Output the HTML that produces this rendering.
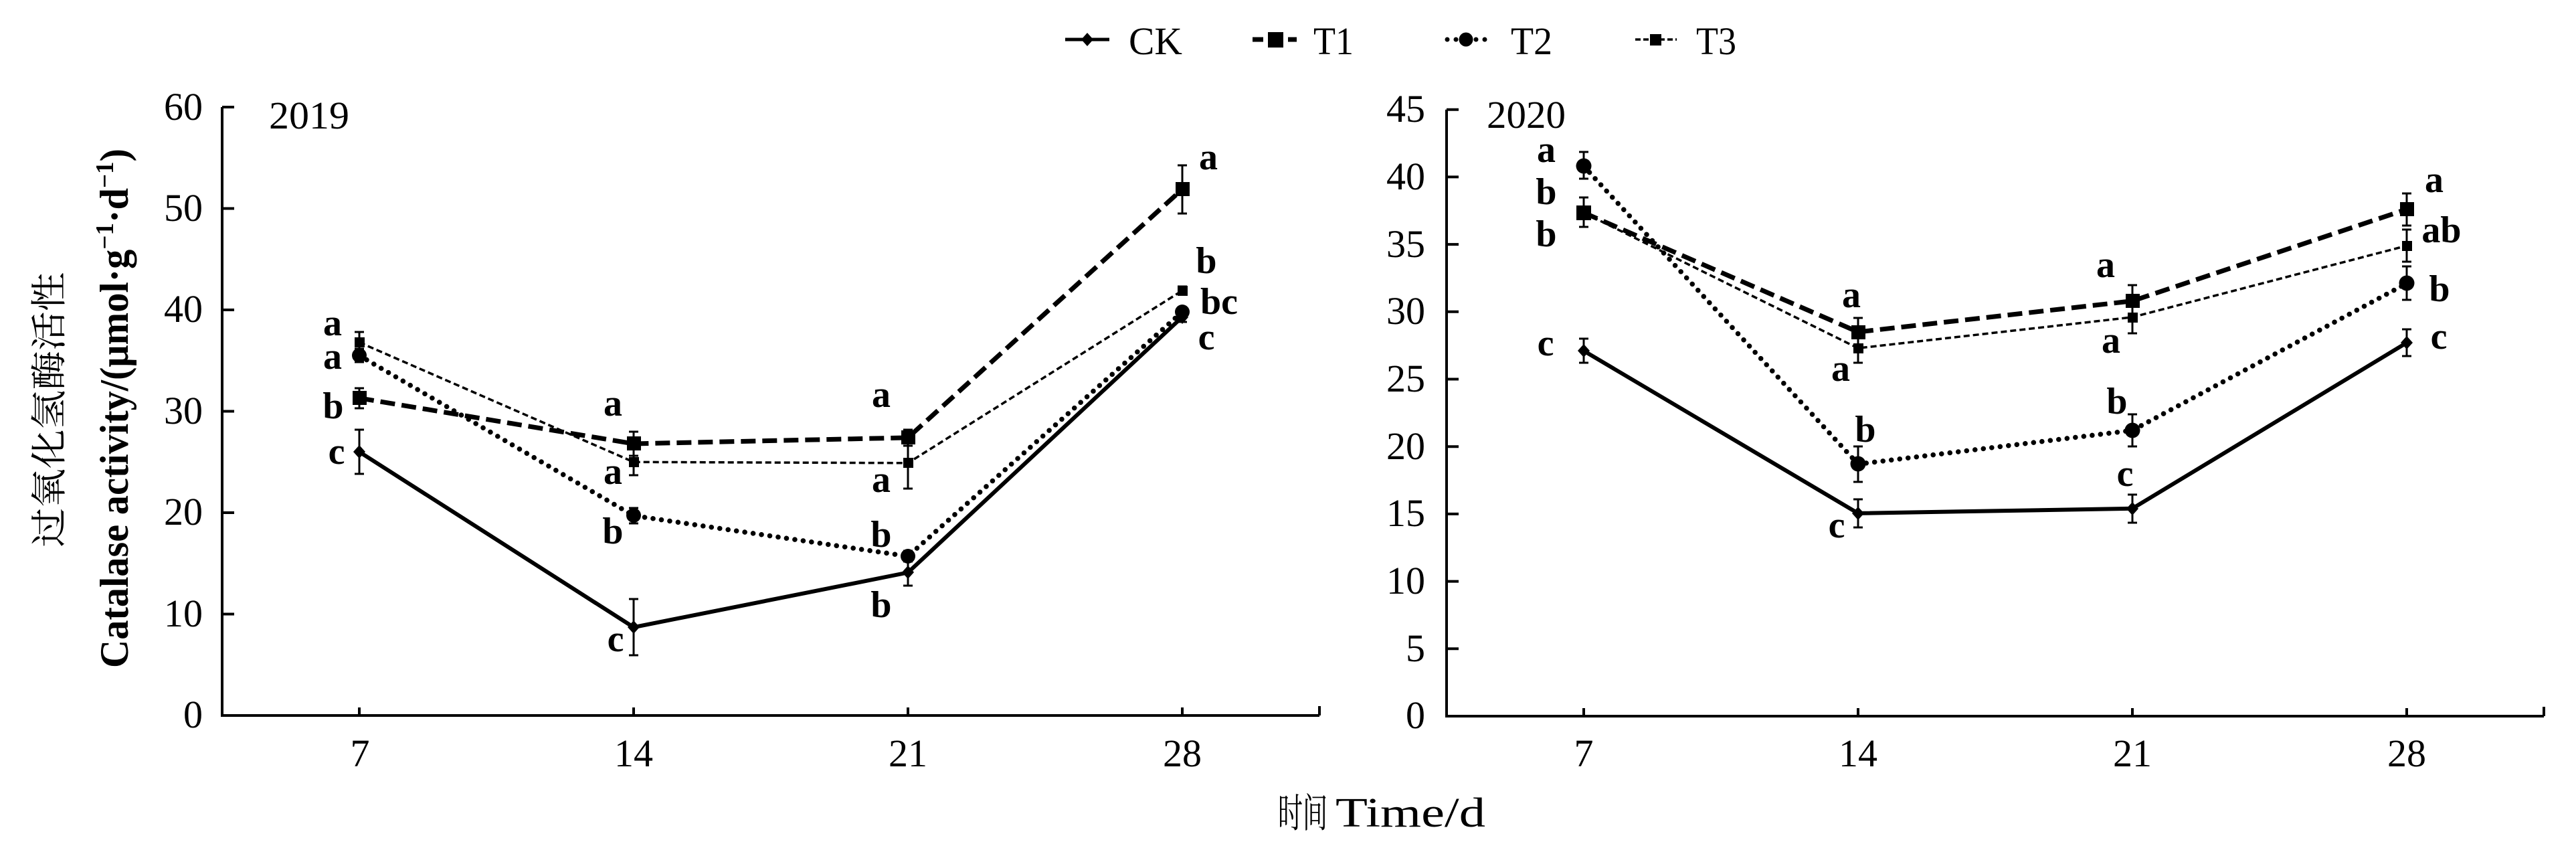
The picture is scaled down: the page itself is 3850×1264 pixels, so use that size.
<!DOCTYPE html>
<html>
<head>
<meta charset="utf-8">
<style>
  html,body{margin:0;padding:0;background:#fff;}
  body{width:3850px;height:1264px;overflow:hidden;}
  svg{display:block;}
  .t{font-family:"Liberation Serif","Noto Serif CJK SC",serif;fill:#000;}
  .tick{font-size:58px;}
  .let{font-size:56px;font-weight:bold;text-anchor:middle;}
</style>
</head>
<body>
<svg width="3850" height="1264" viewBox="0 0 3850 1264" xmlns="http://www.w3.org/2000/svg">
  <rect x="0" y="0" width="3850" height="1264" fill="#fff"/>

  <!-- ===== Legend ===== -->
  <g stroke="#000" fill="#000">
    <line x1="1592" y1="59" x2="1658" y2="59" stroke-width="5"/>
    <polygon points="1625,49 1634,59 1625,69 1616,59" stroke="none"/>
    <line x1="1872" y1="59" x2="1888" y2="59" stroke-width="7"/>
    <rect x="1895" y="48" width="23" height="23" stroke="none"/>
    <line x1="1925" y1="59" x2="1938" y2="59" stroke-width="7"/>
    <circle cx="2163" cy="59" r="3.5" stroke="none"/>
    <circle cx="2176" cy="59" r="3.5" stroke="none"/>
    <circle cx="2191" cy="59" r="10.5" stroke="none"/>
    <circle cx="2206" cy="59" r="3.5" stroke="none"/>
    <circle cx="2219" cy="59" r="3.5" stroke="none"/>
    <line x1="2444" y1="59" x2="2506" y2="59" stroke-width="3.5" stroke-dasharray="8 4"/>
    <rect x="2466" y="51" width="17" height="17" stroke="none"/>
  </g>
  <g class="t" font-size="58">
    <text x="1687" y="81" textLength="80" lengthAdjust="spacingAndGlyphs">CK</text>
    <text x="1963" y="81" textLength="60" lengthAdjust="spacingAndGlyphs">T1</text>
    <text x="2258" y="81" textLength="62" lengthAdjust="spacingAndGlyphs">T2</text>
    <text x="2535" y="81" textLength="60" lengthAdjust="spacingAndGlyphs">T3</text>
  </g>

  <!-- ===== Y axis title ===== -->
  <text class="t" transform="translate(92,612) rotate(-90)" text-anchor="middle" font-size="54" textLength="411" lengthAdjust="spacingAndGlyphs">过氧化氢酶活性</text>
  <text class="t" transform="translate(191,610) rotate(-90)" text-anchor="middle" font-size="60" font-weight="bold" textLength="776" lengthAdjust="spacingAndGlyphs">Catalase activity/(μmol·g<tspan font-size="38" dy="-22">−1</tspan><tspan dy="22">·d</tspan><tspan font-size="38" dy="-22">−1</tspan><tspan dy="22">)</tspan></text>

  <!-- ===== X axis title ===== -->
  <text class="t" x="1910" y="1236" font-size="60" textLength="74" lengthAdjust="spacingAndGlyphs">时间</text>
  <text class="t" x="1996" y="1235" font-size="62" textLength="224" lengthAdjust="spacingAndGlyphs">Time/d</text>

  <!-- ================= LEFT PANEL (2019) ================= -->
  <g stroke="#000" stroke-width="4" fill="none">
    <path d="M332,160 L332,1069 L1972,1069"/>
    <line x1="332" y1="160" x2="350" y2="160"/>
    <line x1="332" y1="311.5" x2="350" y2="311.5"/>
    <line x1="332" y1="463" x2="350" y2="463"/>
    <line x1="332" y1="614.5" x2="350" y2="614.5"/>
    <line x1="332" y1="766" x2="350" y2="766"/>
    <line x1="332" y1="917.5" x2="350" y2="917.5"/>
    <line x1="537" y1="1069" x2="537" y2="1057"/>
    <line x1="947" y1="1069" x2="947" y2="1057"/>
    <line x1="1357" y1="1069" x2="1357" y2="1057"/>
    <line x1="1767" y1="1069" x2="1767" y2="1057"/>
    <line x1="1972" y1="1069" x2="1972" y2="1055"/>
  </g>
  <g class="t tick" text-anchor="end">
    <text x="303" y="1087">0</text>
    <text x="303" y="936">10</text>
    <text x="303" y="784">20</text>
    <text x="303" y="633">30</text>
    <text x="303" y="481">40</text>
    <text x="303" y="330">50</text>
    <text x="303" y="179">60</text>
  </g>
  <g class="t tick" text-anchor="middle">
    <text x="538" y="1145">7</text>
    <text x="947" y="1145">14</text>
    <text x="1357" y="1145">21</text>
    <text x="1767" y="1145">28</text>
  </g>
  <text class="t" x="402" y="192" font-size="58" textLength="120" lengthAdjust="spacingAndGlyphs">2019</text>

  <g fill="none" stroke="#000">
    <polyline points="537,675.1 947,937.2 1357,855.4 1767,473.6" stroke-width="6"/>
    <polyline points="537,594.8 947,663 1357,653.9 1767,282.7" stroke-width="7" stroke-dasharray="22 10"/>
    <polyline points="537,531.2 947,770.5 1357,831.1 1767,466" stroke-width="7.5" stroke-dasharray="0.1 12.5" stroke-linecap="round"/>
    <polyline points="537,511.5 947,690.3 1357,691.8 1767,434.2" stroke-width="3.5" stroke-dasharray="9 5"/>
  </g>
  <g stroke="#000" stroke-width="3" fill="none">
    <path d="M537,642 V708 M530,642 H544 M530,708 H544"/>
    <path d="M947,895 V979 M940,895 H954 M940,979 H954"/>
    <path d="M1357,835 V875 M1350,835 H1364 M1350,875 H1364"/>
    <path d="M1767,466 V481 M1760,466 H1774 M1760,481 H1774"/>
    <path d="M537,580 V610 M530,580 H544 M530,610 H544"/>
    <path d="M947,645 V681 M940,645 H954 M940,681 H954"/>
    <path d="M1357,642 V666 M1350,642 H1364 M1350,666 H1364"/>
    <path d="M1767,247 V319 M1760,247 H1774 M1760,319 H1774"/>
    <path d="M537,521 V541 M530,521 H544 M530,541 H544"/>
    <path d="M947,759 V782 M940,759 H954 M940,782 H954"/>
    <path d="M1357,823 V839 M1350,823 H1364 M1350,839 H1364"/>
    <path d="M537,496 V527 M530,496 H544 M530,527 H544"/>
    <path d="M947,670 V710 M940,670 H954 M940,710 H954"/>
    <path d="M1357,654 V730 M1350,654 H1364 M1350,730 H1364"/>
    <path d="M1767,428 V440 M1760,428 H1774 M1760,440 H1774"/>
  </g>
  <g fill="#000">
    <polygon points="537,665 546,675 537,685 528,675"/>
    <polygon points="947,927 956,937 947,947 938,937"/>
    <polygon points="1357,845 1366,855 1357,865 1348,855"/>
    <polygon points="1767,464 1776,474 1767,484 1758,474"/>
    <rect x="527" y="584" width="21" height="21"/>
    <rect x="937" y="652" width="21" height="21"/>
    <rect x="1347" y="643" width="21" height="21"/>
    <rect x="1757" y="272" width="21" height="21"/>
    <circle cx="537" cy="531" r="11"/>
    <circle cx="947" cy="770" r="11"/>
    <circle cx="1357" cy="831" r="11"/>
    <circle cx="1767" cy="466" r="11"/>
    <rect x="530" y="504" width="15" height="15"/>
    <rect x="940" y="683" width="15" height="15"/>
    <rect x="1350" y="684" width="15" height="15"/>
    <rect x="1760" y="427" width="15" height="15"/>
  </g>
  <g class="t let">
    <text x="497" y="501">a</text>
    <text x="497" y="551">a</text>
    <text x="498" y="625">b</text>
    <text x="503" y="693">c</text>
    <text x="916" y="621">a</text>
    <text x="916" y="723">a</text>
    <text x="916" y="812">b</text>
    <text x="920" y="973">c</text>
    <text x="1317" y="608">a</text>
    <text x="1317" y="735">a</text>
    <text x="1317" y="817">b</text>
    <text x="1317" y="922">b</text>
    <text x="1806" y="253">a</text>
    <text x="1803" y="408">b</text>
    <text x="1822" y="469">bc</text>
    <text x="1803" y="522">c</text>
  </g>

  <!-- ================= RIGHT PANEL (2020) ================= -->
  <g stroke="#000" stroke-width="4" fill="none">
    <path d="M2162,163.7 L2162,1070 L3802,1070"/>
    <line x1="2162" y1="163.7" x2="2180" y2="163.7"/>
    <line x1="2162" y1="264.4" x2="2180" y2="264.4"/>
    <line x1="2162" y1="365.1" x2="2180" y2="365.1"/>
    <line x1="2162" y1="465.8" x2="2180" y2="465.8"/>
    <line x1="2162" y1="566.5" x2="2180" y2="566.5"/>
    <line x1="2162" y1="667.2" x2="2180" y2="667.2"/>
    <line x1="2162" y1="767.9" x2="2180" y2="767.9"/>
    <line x1="2162" y1="868.6" x2="2180" y2="868.6"/>
    <line x1="2162" y1="969.3" x2="2180" y2="969.3"/>
    <line x1="2367" y1="1070" x2="2367" y2="1058"/>
    <line x1="2777" y1="1070" x2="2777" y2="1058"/>
    <line x1="3187" y1="1070" x2="3187" y2="1058"/>
    <line x1="3597" y1="1070" x2="3597" y2="1058"/>
    <line x1="3802" y1="1070" x2="3802" y2="1056"/>
  </g>
  <g class="t tick" text-anchor="end">
    <text x="2130" y="1088">0</text>
    <text x="2130" y="988">5</text>
    <text x="2130" y="887">10</text>
    <text x="2130" y="786">15</text>
    <text x="2130" y="686">20</text>
    <text x="2130" y="585">25</text>
    <text x="2130" y="484">30</text>
    <text x="2130" y="384">35</text>
    <text x="2130" y="283">40</text>
    <text x="2130" y="182">45</text>
  </g>
  <g class="t tick" text-anchor="middle">
    <text x="2367" y="1145">7</text>
    <text x="2777" y="1145">14</text>
    <text x="3187" y="1145">21</text>
    <text x="3597" y="1145">28</text>
  </g>
  <text class="t" x="2222" y="191" font-size="58" textLength="118" lengthAdjust="spacingAndGlyphs">2020</text>

  <g fill="none" stroke="#000">
    <polyline points="2367,524.2 2777,766.9 3187,759.8 3597,512.1" stroke-width="6"/>
    <polyline points="2367,317.8 2777,496 3187,449.7 3597,312.7" stroke-width="7" stroke-dasharray="22 10"/>
    <polyline points="2367,248.3 2777,693.4 3187,643 3597,423.5" stroke-width="7.5" stroke-dasharray="0.1 12.5" stroke-linecap="round"/>
    <polyline points="2367,317.8 2777,520.2 3187,473.9 3597,367.1" stroke-width="3.5" stroke-dasharray="9 5"/>
  </g>
  <g stroke="#000" stroke-width="3" fill="none">
    <path d="M2367,506 V542 M2360,506 H2374 M2360,542 H2374"/>
    <path d="M2777,746 V788 M2770,746 H2784 M2770,788 H2784"/>
    <path d="M3187,739 V781 M3180,739 H3194 M3180,781 H3194"/>
    <path d="M3597,492 V532 M3590,492 H3604 M3590,532 H3604"/>
    <path d="M2367,295 V339 M2360,295 H2374 M2360,339 H2374"/>
    <path d="M2777,475 V517 M2770,475 H2784 M2770,517 H2784"/>
    <path d="M3187,426 V474 M3180,426 H3194 M3180,474 H3194"/>
    <path d="M3597,289 V337 M3590,289 H3604 M3590,337 H3604"/>
    <path d="M2367,227 V267 M2360,227 H2374 M2360,267 H2374"/>
    <path d="M2777,667 V720 M2770,667 H2784 M2770,720 H2784"/>
    <path d="M3187,619 V667 M3180,619 H3194 M3180,667 H3194"/>
    <path d="M3597,398 V448 M3590,398 H3604 M3590,448 H3604"/>
    <path d="M2777,498 V542 M2770,498 H2784 M2770,542 H2784"/>
    <path d="M3187,450 V498 M3180,450 H3194 M3180,498 H3194"/>
    <path d="M3597,343 V391 M3590,343 H3604 M3590,391 H3604"/>
  </g>
  <g fill="#000">
    <polygon points="2367,514 2376,524 2367,534 2358,524"/>
    <polygon points="2777,757 2786,767 2777,777 2768,767"/>
    <polygon points="3187,750 3196,760 3187,770 3178,760"/>
    <polygon points="3597,502 3606,512 3597,522 3588,512"/>
    <rect x="2356" y="307" width="22" height="22"/>
    <rect x="2767" y="486" width="21" height="21"/>
    <rect x="3177" y="439" width="21" height="21"/>
    <rect x="3587" y="302" width="21" height="21"/>
    <circle cx="2367" cy="248" r="11.5"/>
    <circle cx="2777" cy="693" r="11.5"/>
    <circle cx="3187" cy="643" r="11.5"/>
    <circle cx="3597" cy="423" r="11.5"/>
    <rect x="2770" y="513" width="15" height="15"/>
    <rect x="3180" y="467" width="15" height="15"/>
    <rect x="3590" y="360" width="15" height="15"/>
  </g>
  <g class="t let">
    <text x="2311" y="242">a</text>
    <text x="2311" y="305">b</text>
    <text x="2311" y="368">b</text>
    <text x="2310" y="531">c</text>
    <text x="2767" y="459">a</text>
    <text x="2751" y="569">a</text>
    <text x="2788" y="660">b</text>
    <text x="2745" y="803">c</text>
    <text x="3147" y="414">a</text>
    <text x="3155" y="527">a</text>
    <text x="3164" y="618">b</text>
    <text x="3176" y="726">c</text>
    <text x="3638" y="287">a</text>
    <text x="3649" y="362">ab</text>
    <text x="3646" y="450">b</text>
    <text x="3645" y="521">c</text>
  </g>
</svg>
</body>
</html>
